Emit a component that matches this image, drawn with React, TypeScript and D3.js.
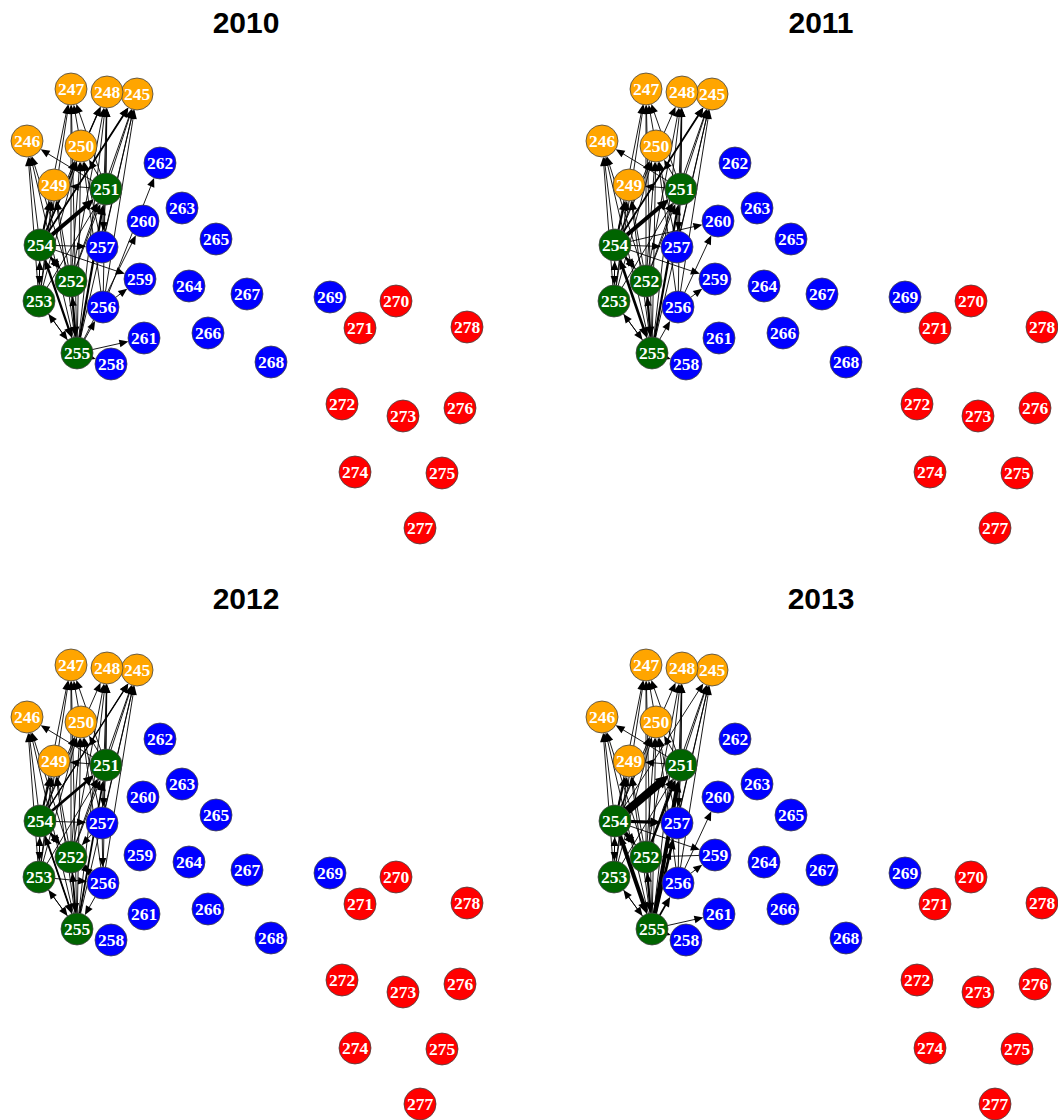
import * as d3 from "d3";

// node layout (in pixels relative to the panel origin)
const nodeIds = [245, 246, 247, 248, 249, 250, 251, 252, 253, 254, 255, 256, 257, 258, 259, 260, 261, 262, 263, 264, 265, 266, 267, 268, 269, 270, 271, 272, 273, 274, 275, 276, 277, 278];
const nodeX = [137, 27, 71, 107, 54, 81, 106, 71, 39, 40, 77, 103, 102, 111, 140, 143, 144, 160, 182, 189, 216, 208, 247, 271, 330, 396, 360, 342, 403, 355, 442, 460, 420, 467];
const nodeY = [94, 141, 89, 92, 185, 146, 189, 281, 301, 245, 353, 307, 247, 364, 279, 221, 338, 163, 208, 286, 239, 333, 294, 362, 297, 301, 328, 404, 416, 472, 473, 408, 528, 327];

const orangeIds = [245, 246, 247, 248, 249, 250];
const greenIds = [251, 252, 253, 254, 255];
const blueIds = [256, 257, 258, 259, 260, 261, 262, 263, 264, 265, 266, 267, 268, 269];
// remaining ids are red

const years = ["2010", "2011", "2012", "2013"];

type Edge = [number, number, number];

// shared core of ties into the orange group
const coreEdges: Edge[] = [
  [255, 247, 1], [255, 248, 1], [255, 245, 1], [255, 246, 1], [255, 250, 1], [255, 249, 1],
  [254, 247, 1], [254, 248, 1], [254, 245, 1], [254, 246, 1], [254, 250, 1], [254, 249, 2],
  [253, 247, 1], [253, 246, 1], [253, 250, 1], [253, 249, 1],
  [252, 247, 1], [252, 248, 1], [252, 245, 1], [252, 246, 1], [252, 250, 1], [252, 249, 1],
  [251, 247, 1], [251, 248, 1], [251, 245, 1], [251, 246, 1], [251, 250, 1], [251, 249, 1],
  [256, 248, 1], [256, 245, 1], [256, 250, 1],
  [257, 248, 1], [257, 245, 1], [257, 250, 1],
  [250, 247, 1],
  [252, 251, 1], [253, 251, 1], [253, 254, 1], [255, 254, 1], [252, 254, 1],
  [255, 252, 1], [254, 253, 1], [255, 253, 1], [253, 255, 1]
];

const edges2010: Edge[] = [
  [254, 251, 4.5], [255, 251, 2.5], [254, 255, 2.5], [252, 255, 2.5], [254, 252, 2.5], [254, 245, 2],
  [254, 257, 1], [254, 259, 1], [255, 256, 1], [256, 259, 1], [256, 262, 1], [255, 260, 1],
  [255, 261, 1], [255, 258, 1], [251, 257, 1], [254, 248, 1.5]
];
const edges2011: Edge[] = [
  [254, 251, 4.5], [255, 251, 2.5], [254, 255, 3], [252, 255, 2.5], [254, 252, 2.5], [254, 245, 2],
  [254, 257, 1], [254, 259, 1], [254, 260, 1], [256, 260, 1], [256, 259, 1], [255, 258, 1],
  [255, 256, 1], [251, 257, 1]
];
const edges2012: Edge[] = [
  [254, 251, 3], [255, 251, 2], [254, 255, 2], [252, 255, 2], [254, 252, 2.5], [254, 245, 1.5],
  [254, 257, 1], [257, 256, 1], [253, 256, 1], [256, 255, 1], [256, 252, 1], [257, 252, 1],
  [251, 257, 1], [252, 256, 1]
];
const edges2013: Edge[] = [
  [254, 251, 9], [255, 251, 4.5], [254, 255, 4.5], [252, 255, 2.5], [254, 252, 4.5], [254, 257, 3.5],
  [255, 257, 3], [256, 260, 1], [256, 259, 1], [254, 259, 1], [259, 252, 1], [255, 261, 1],
  [255, 258, 1], [255, 256, 2], [251, 257, 1], [252, 251, 2.5]
];

const yearEdges = [edges2010, edges2011, edges2012, edges2013];

const colorOf = (id: number) =>
  orangeIds.includes(id) ? "#FFA500" : greenIds.includes(id) ? "#006400" : blueIds.includes(id) ? "#0000FF" : "#FF0000";

const R = 16;

function Panel({ title, edges, ox, oy }: { title: string; edges: Edge[]; ox: number; oy: number }) {
  const x = d3.scaleLinear([0, 500], [ox, ox + 500]);
  const y = d3.scaleLinear([0, 560], [oy, oy + 560]);
  const pos = new Map(nodeIds.map((id, i) => [id, [x(nodeX[i]), y(nodeY[i])]]));
  const all = [...coreEdges, ...edges];

  return (
    <g>
      <text x={ox + 246} y={oy + 33} textAnchor="middle" fontFamily="'Liberation Sans', Arial, sans-serif" fontWeight="bold" fontSize={30}>
        {title}
      </text>
      {all.map(([s, t, w], i) => {
        const [x1, y1] = pos.get(s)!;
        const [x2, y2] = pos.get(t)!;
        const dx = x2 - x1;
        const dy = y2 - y1;
        const len = Math.hypot(dx, dy);
        const ux = dx / len;
        const uy = dy / len;
        const al = 7 + Math.sqrt(w) * 2;
        const aw = 2.6 + Math.sqrt(w) * 1.2;
        const tipX = x2 - ux * R;
        const tipY = y2 - uy * R;
        const bx = tipX - ux * al;
        const by = tipY - uy * al;
        const head = [
          [tipX, tipY],
          [bx - uy * aw, by + ux * aw],
          [bx + uy * aw, by - ux * aw]
        ];
        return (
          <g key={i}>
            <line x1={x1 + ux * R * 0.5} y1={y1 + uy * R * 0.5} x2={bx + ux * 1} y2={by + uy * 1} stroke="#000" strokeWidth={w * 0.9} />
            <path d={(d3.line()(head as [number, number][]) ?? "") + "Z"} fill="#000" />
          </g>
        );
      })}
      {nodeIds.map(id => {
        const [cx, cy] = pos.get(id)!;
        return (
          <g key={id}>
            <circle cx={cx} cy={cy} r={R} fill={colorOf(id)} stroke="#444" strokeWidth={0.8} />
            <text x={cx} y={cy + 6} textAnchor="middle" fill="#fff" fontFamily="'Liberation Serif', 'Times New Roman', serif" fontWeight="bold" fontSize={17.5}>
              {id}
            </text>
          </g>
        );
      })}
    </g>
  );
}

export default function App() {
  const colX = d3.scaleBand([0, 1], [0, 1150]);
  const rowY = d3.scaleBand([0, 1], [0, 1152]);
  return (
    <svg width={1058} height={1120} viewBox="0 0 1058 1120" style={{ position: "absolute", left: 0, top: 0, background: "#fff" }}>
      {years.map((yr, i) => (
        <Panel key={yr} title={yr} edges={yearEdges[i]} ox={colX(i % 2) ?? 0} oy={rowY(Math.floor(i / 2)) ?? 0} />
      ))}
    </svg>
  );
}
